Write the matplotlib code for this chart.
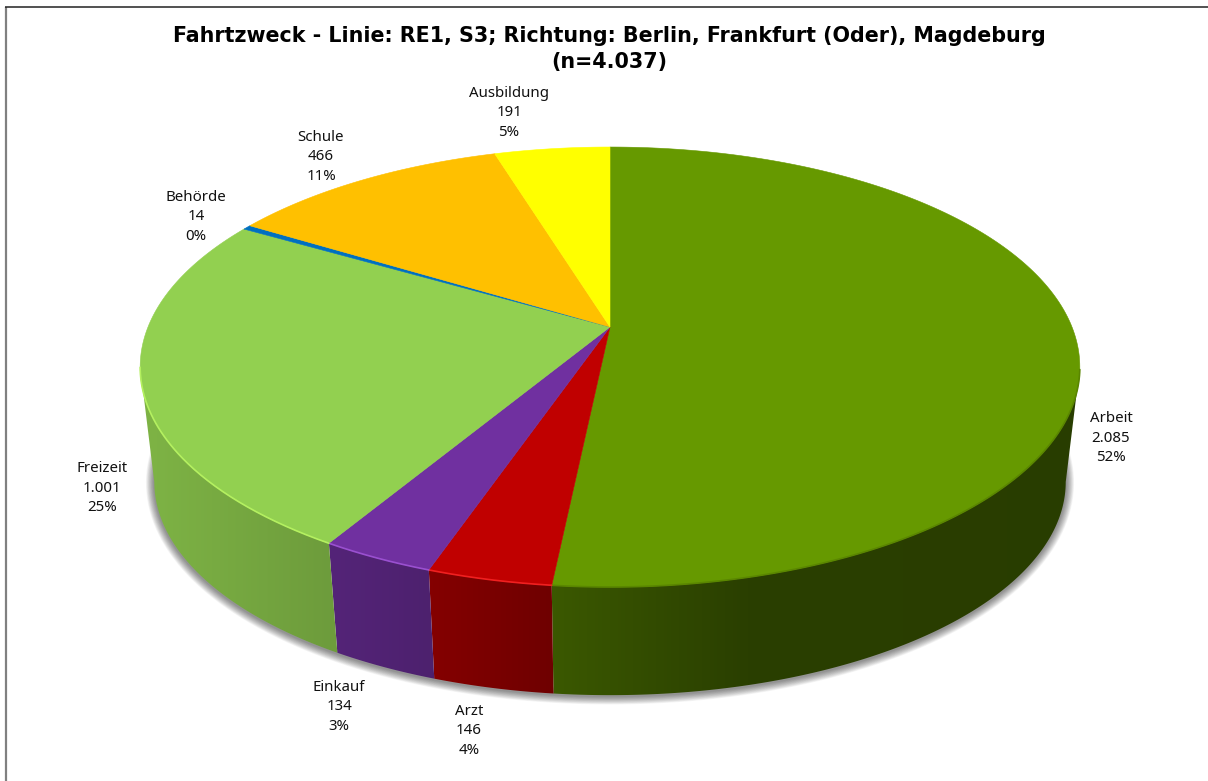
import numpy as np
import matplotlib
matplotlib.use("Agg")
import matplotlib.pyplot as plt
from matplotlib.colors import to_rgb
from matplotlib.patches import Polygon

# Data, clockwise from twelve o'clock
categories = ["Arbeit", "Arzt", "Einkauf", "Freizeit", "Behörde", "Schule", "Ausbildung"]
counts = [2085, 146, 134, 1001, 14, 466, 191]
count_labels = ["2.085", "146", "134", "1.001", "14", "466", "191"]
percent_labels = ["52%", "4%", "3%", "25%", "0%", "11%", "5%"]

title = "Fahrtzweck - Linie: RE1, S3; Richtung: Berlin, Frankfurt (Oder), Magdeburg\n(n=4.037)"

colors = ["#669900", "#C00000", "#7030A0", "#92D050", "#0070C0", "#FFC000", "#FFFF00"]
rim_colors = ["#5a8600", "#F02020", "#9A50D0", "#B4F060", "#0070C0", "#FFC000", "#FFFF00"]

# Layout, in picture pixels
label_pos = [(1111, 438), (469, 731), (339, 707), (102, 488), (196, 217), (321, 157), (509, 113)]
CX, CY = 610, 327     # tip of the slices
A, B, K = 462, 212.7, 0.1818   # perspective of the disc
DEPTH_Y, DEPTH_S = 116, 0.97   # bottom disc against the top disc
shade_x = [150, 330, 430, 550, 750, 1070]
shade_f = [0.86, 0.75, 0.69, 0.58, 0.41, 0.40]
SIDE_FROM, SIDE_TO = np.radians(100.5), np.radians(259.5)  # where the wall silhouette starts


def top_xy(theta):
    """theta in radians, clockwise from twelve o'clock, on the top disc."""
    u, v = np.sin(theta), -np.cos(theta)
    d = 1 - K * v
    return A * u / d, B * v / d


def ring(theta, lower=False):
    x, y = top_xy(theta)
    if lower:
        return CX + DEPTH_S * x, CY + DEPTH_Y + DEPTH_S * y
    return CX + x, CY + y


fig = plt.figure(figsize=(12.08, 7.81), dpi=100, facecolor="white")
ax = fig.add_axes([0, 0, 1, 1])
ax.axis("off")

# Frame: only left and top are visible
ax.plot([6, 6], [7, 781], color="#808080", lw=1.6, zorder=1, solid_capstyle="butt")
ax.plot([5, 1208], [7, 7], color="#222222", lw=1.1, zorder=1, solid_capstyle="butt")

edges = np.concatenate([[0], np.cumsum(counts)]) / np.sum(counts) * 2 * np.pi

# Soft shadow under the lower rim
th = np.linspace(np.pi * 0.40, np.pi * 1.60, 300)
sx, sy = ring(th, lower=True)
for lw in np.arange(12, 0.5, -0.9):
    ax.plot(sx, sy + 1, color="black", alpha=0.04, lw=lw, zorder=2, solid_capstyle="round")

# Side wall: horizontal gradient clipped to the slice outline
for i, col in enumerate(colors):
    lo, hi = max(edges[i], SIDE_FROM), min(edges[i + 1], SIDE_TO)
    if hi <= lo:
        continue
    th = np.linspace(lo, hi, 200)
    x0, y0 = ring(th)
    x1, y1 = ring(th[::-1], lower=True)
    outline = Polygon(np.column_stack([np.r_[x0, x1], np.r_[y0, y1]]), closed=True,
                      transform=ax.transData, facecolor="none", edgecolor="none")
    ax.add_patch(outline)
    xs = np.arange(np.floor(min(x0.min(), x1.min())) - 1, np.ceil(max(x0.max(), x1.max())) + 2)
    grad = np.interp(xs, shade_x, shade_f)[None, :, None] * np.array(to_rgb(col))
    im = ax.imshow(grad, extent=(xs[0], xs[-1], 781, 0), aspect="auto", zorder=3,
                   interpolation="bilinear")
    im.set_clip_path(outline)

ax.set_xlim(0, 1208)
ax.set_ylim(781, 0)

# Top of the pie
for i, col in enumerate(colors):
    th = np.linspace(edges[i], edges[i + 1], 240)
    x, y = ring(th)
    pts = np.column_stack([np.r_[CX, x], np.r_[CY, y]])
    ax.add_patch(Polygon(pts, closed=True, facecolor=col, edgecolor=col, lw=0.4, zorder=4))

# Thin bevel along the front edge
for i, col in enumerate(rim_colors):
    th = np.linspace(edges[i], edges[i + 1], 240)
    keep = -np.cos(th) > K
    if keep.any():
        x, y = ring(th[keep])
        ax.plot(x, y, color=col, lw=1.2, zorder=5, solid_capstyle="round")

for name, cnt, pct, (lx, ly) in zip(categories, count_labels, percent_labels, label_pos):
    ax.text(lx, ly, f"{name}\n{cnt}\n{pct}", ha="center", va="center", fontsize=10.8,
            family="Noto Sans", color="#111111", linespacing=1.43, zorder=6)

ax.text(609, 49, title, ha="center", va="center", fontsize=14.85, fontweight="bold",
        family="DejaVu Sans", color="black", linespacing=1.42, zorder=6)

fig.savefig("out.png", dpi=100, facecolor="white")
